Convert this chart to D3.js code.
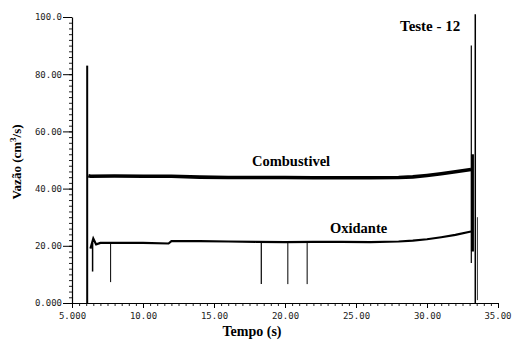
<!DOCTYPE html>
<html>
<head>
<meta charset="utf-8">
<script src="https://cdn.jsdelivr.net/npm/d3@7"></script>
<style>
  body { margin: 0; background: #fff; }
  .tick text { font-family: "DejaVu Sans Mono", monospace; font-size: 9px; fill: #222; }
  .title { font-family: "Liberation Serif", "DejaVu Serif", serif; font-weight: bold; fill: #000; }
</style>
</head>
<body>
<div id="chart"></div>
<script>
// time (s) / flow (cm3/s)
const combTime = [6.15, 6.3, 8, 10, 12, 14, 16, 18, 20, 22, 24, 26, 28, 29, 30, 31, 32, 33.1];
const combFlow = [44.5, 44.3, 44.4, 44.3, 44.3, 44.0, 43.9, 43.9, 43.9, 43.8, 43.8, 43.8, 43.9, 44.1, 44.6, 45.2, 45.9, 46.7];

const oxTime = [6.3, 6.5, 6.7, 7, 8, 10, 11.8, 12, 14, 16, 18, 20, 22, 24, 26, 28, 29, 30, 31, 32, 33.1];
const oxFlow = [19, 22.5, 20.5, 21, 21, 21, 20.8, 21.6, 21.6, 21.5, 21.4, 21.3, 21.4, 21.4, 21.3, 21.5, 21.8, 22.3, 23.0, 23.8, 25.0];

// thin vertical dropouts / spikes: time, from, to, stroke width
const spikeTime = [6.07, 6.45, 7.72, 18.33, 20.2, 21.56, 33.12, 33.2, 33.4, 33.55];
const spikeFrom = [0, 21, 21, 21.4, 21.3, 21.4, 14, 18, 0, 1];
const spikeTo   = [83, 11, 7.3, 6.6, 6.6, 6.6, 90, 52, 101, 30];
const spikeW    = [2, 1.5, 1, 1.2, 1, 1, 1.2, 3, 1.5, 0.8];

const yTicks = [0, 20, 40, 60, 80, 100];
const yLabels = ["0.000", "20.00", "40.00", "60.00", "80.00", "100.0"];
const xTicks = [5, 10, 15, 20, 25, 30, 35];
const xLabels = ["5.000", "10.00", "15.00", "20.00", "25.00", "30.00", "35.00"];

const width = 513, height = 340;
const svg = d3.select('#chart').append('svg')
    .attr('width', width)
    .attr('height', height);

const x = d3.scaleLinear().domain([5, 35]).range([72, 498]);
const y = d3.scaleLinear().domain([0, 100]).range([303, 17]);

// minor ticks
const yMinor = d3.range(0, 101, 2);
const xMinor = d3.range(5, 35.01, 0.5);

svg.append('g')
    .attr('transform', 'translate(72,0)')
    .call(d3.axisLeft(y).tickValues(yMinor).tickSize(3).tickFormat(''))
    .call(g => g.select('.domain').remove())
    .selectAll('line').attr('stroke', '#222');

svg.append('g')
    .attr('transform', 'translate(0,303)')
    .call(d3.axisBottom(x).tickValues(xMinor).tickSize(3).tickFormat(''))
    .call(g => g.select('.domain').remove())
    .selectAll('line').attr('stroke', '#222');

const yAxis = svg.append('g')
    .attr('transform', 'translate(72,0)')
    .call(d3.axisLeft(y).tickValues(yTicks).tickSize(9).tickPadding(1).tickSizeOuter(0)
        .tickFormat((d, i) => yLabels[i]));
yAxis.select('.domain').attr('stroke', '#000').attr('stroke-width', 1.2);
yAxis.selectAll('line').attr('stroke', '#000');

const xAxis = svg.append('g')
    .attr('transform', 'translate(0,303)')
    .call(d3.axisBottom(x).tickValues(xTicks).tickSize(5).tickPadding(5).tickSizeOuter(0)
        .tickFormat((d, i) => xLabels[i]));
xAxis.select('.domain').attr('stroke', '#000').attr('stroke-width', 1.2);
xAxis.selectAll('line').attr('stroke', '#000');
xAxis.selectAll('.tick:last-of-type text').attr('text-anchor', 'end').attr('dx', 13);

const line = d3.line().x(d => x(d[0])).y(d => y(d[1]));

svg.append('path')
    .datum(d3.zip(combTime, combFlow))
    .attr('d', line)
    .attr('fill', 'none')
    .attr('stroke', '#000')
    .attr('stroke-width', 3.6);

svg.append('path')
    .datum(d3.zip(oxTime, oxFlow))
    .attr('d', line)
    .attr('fill', 'none')
    .attr('stroke', '#000')
    .attr('stroke-width', 2.2);

svg.selectAll('.spike')
    .data(spikeTime)
    .enter().append('line')
    .attr('class', 'spike')
    .attr('x1', d => x(d))
    .attr('x2', d => x(d))
    .attr('y1', (d, i) => y(spikeFrom[i]))
    .attr('y2', (d, i) => y(spikeTo[i]))
    .attr('stroke', '#000')
    .attr('stroke-width', (d, i) => spikeW[i]);

// labels
svg.append('text').attr('class', 'title')
    .attr('x', 252).attr('y', 336)
    .attr('font-size', 14)
    .attr('text-anchor', 'middle')
    .text('Tempo (s)');

svg.append('text').attr('class', 'title')
    .attr('transform', 'translate(21,162) rotate(-90)')
    .attr('font-size', 13)
    .attr('text-anchor', 'middle')
    .html('Vazão (cm<tspan dy="-5" font-size="9">3</tspan><tspan dy="5">/s)</tspan>');

svg.append('text').attr('class', 'title')
    .attr('x', 400).attr('y', 31)
    .attr('font-size', 15)
    .text('Teste - 12');

svg.append('text').attr('class', 'title')
    .attr('x', 252).attr('y', 166)
    .attr('font-size', 14.5)
    .text('Combustivel');

svg.append('text').attr('class', 'title')
    .attr('x', 330).attr('y', 233)
    .attr('font-size', 14.5)
    .text('Oxidante');
</script>
</body>
</html>
